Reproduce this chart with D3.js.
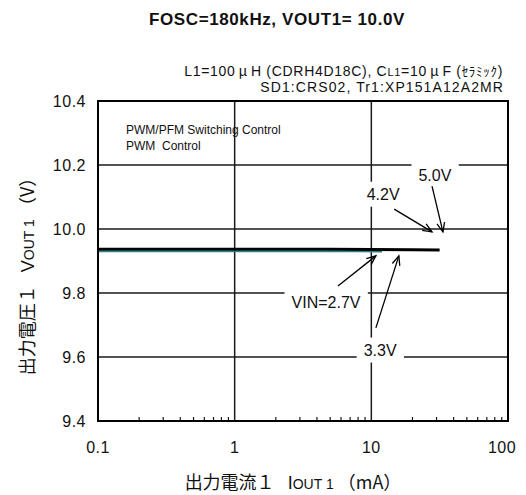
<!DOCTYPE html>
<html>
<head>
<meta charset="utf-8">
<script src="https://cdn.jsdelivr.net/npm/d3@7/dist/d3.min.js"></script>
<style>
  html, body { margin: 0; padding: 0; background: #fff; }
  svg text { font-family: "Liberation Sans", Arial, "Noto Sans CJK JP", sans-serif; fill: #111; }
</style>
</head>
<body>
<svg id="chart" width="526" height="495"></svg>
<script>
// Output current (mA) and output voltage (V) for each input voltage
const currentsA = [0.1, 0.2, 0.5, 1, 2, 5, 8, 12];
const vout27 = [9.930, 9.930, 9.930, 9.930, 9.930, 9.930, 9.930, 9.929];
const currentsB = [0.1, 0.2, 0.5, 1, 2, 5, 10, 20, 31.6];
const vout33 = [9.937, 9.937, 9.937, 9.937, 9.937, 9.937, 9.936, 9.935, 9.934];

const xTicks = [0.1, 1, 10, 100];
const xTickLabels = ["0.1", "1", "10", "100"];
const yTicks = [9.4, 9.6, 9.8, 10.0, 10.2, 10.4];
const yTickLabels = ["9.4", "9.6", "9.8", "10.0", "10.2", "10.4"];

// Callouts: label position and arrow (from -> to) in data units
const callouts = [
  { text: "5.0V",     lx: 29.2, ly: 10.169, x1: 27.8, y1: 10.134, x2: 33.4, y2: 9.991 },
  { text: "4.2V",     lx: 12.2, ly: 10.109, x1: 14.7, y1: 10.062, x2: 27.8, y2: 9.991 },
  { text: "VIN=2.7V", lx: 4.66, ly: 9.772,  x1: 5.70, y1: 9.822,  x2: 10.8, y2: 9.916 },
  { text: "3.3V",     lx: 11.6, ly: 9.622,  x1: 10.8, y1: 9.691,  x2: 15.9, y2: 9.916 }
];

const svg = d3.select("#chart");
const pLeft = 98, pRight = 508, pTop = 101, pBottom = 421;

const x = d3.scaleLog().domain([0.1, 100]).range([pLeft, pRight]);
const y = d3.scaleLinear().domain([9.4, 10.4]).range([pBottom, pTop]);

// Title and conditions
svg.append("text").attr("x", 277).attr("y", 25).attr("text-anchor", "middle")
  .style("font-size", "17px").style("font-weight", "bold").style("letter-spacing", "0.6px")
  .text("FOSC=180kHz, VOUT1= 10.0V");

const cond1 = svg.append("text").attr("x", 503).attr("y", 76).attr("text-anchor", "end")
  .style("font-size", "14px").style("letter-spacing", "0.7px");
cond1.append("tspan").text("L1=100");
cond1.append("tspan").attr("dx", 3).style("font-family", "Noto Sans CJK JP").text("μ");
cond1.append("tspan").attr("dx", 3).text("H (CDRH4D18C), C");
cond1.append("tspan").style("font-size", "11px").text("L1");
cond1.append("tspan").text("=10");
cond1.append("tspan").attr("dx", 3).style("font-family", "Noto Sans CJK JP").text("μ");
cond1.append("tspan").attr("dx", 3).text("F (");
cond1.append("tspan").style("font-family", "Noto Sans CJK JP").style("font-size", "13px").text("ｾﾗﾐｯｸ");
cond1.append("tspan").text(")");

svg.append("text").attr("x", 504).attr("y", 92).attr("text-anchor", "end")
  .style("font-size", "14px").style("letter-spacing", "1.1px").text("SD1:CRS02, Tr1:XP151A12A2MR");

// Grid lines
const g = svg.append("g");
g.selectAll(".vgrid").data(xTicks.slice(1, -1)).enter().append("line")
  .attr("x1", d => x(d)).attr("x2", d => x(d)).attr("y1", pTop).attr("y2", pBottom)
  .attr("stroke", "#1a1a1a").attr("stroke-width", 1.5);
g.selectAll(".hgrid").data(yTicks.slice(1, -1)).enter().append("line")
  .attr("x1", pLeft).attr("x2", pRight).attr("y1", d => y(d)).attr("y2", d => y(d))
  .attr("stroke", "#1a1a1a").attr("stroke-width", 1.5);

// Minor log ticks along the bottom, pointing inward
const minor = [];
[0.1, 1, 10].forEach(dec => { for (let k = 2; k <= 9; k++) minor.push(dec * k); });
g.selectAll(".minor").data(minor).enter().append("line")
  .attr("x1", d => x(d)).attr("x2", d => x(d)).attr("y1", pBottom).attr("y2", pBottom - 4)
  .attr("stroke", "#1a1a1a").attr("stroke-width", 1.2);

// Series lines
const line = d3.line().x(d => x(d[0])).y(d => y(d[1]));
svg.append("path").datum(currentsA.map((c, i) => [c, vout27[i]]))
  .attr("d", line).attr("fill", "none").attr("stroke", "#1a8a8a").attr("stroke-width", 1.5);
svg.append("path").datum(currentsB.map((c, i) => [c, vout33[i]]))
  .attr("d", line).attr("fill", "none").attr("stroke", "#000").attr("stroke-width", 3);

// Legend text inside the plot
svg.append("text").attr("x", 126).attr("y", 134).style("font-size", "12px")
  .text("PWM/PFM Switching Control");
svg.append("text").attr("x", 126).attr("y", 150).style("font-size", "12px")
  .attr("xml:space", "preserve").text("PWM  Control");

// Callout labels with white backing, then arrows
callouts.forEach(c => {
  const t = svg.append("text").attr("x", x(c.lx)).attr("y", y(c.ly)).attr("dy", "0.35em")
    .attr("text-anchor", "middle").style("font-size", "16px").text(c.text);
  const bb = t.node().getBBox();
  svg.insert("rect", () => t.node())
    .attr("x", bb.x - 7).attr("y", bb.y - 4).attr("width", bb.width + 14).attr("height", bb.height + 8)
    .attr("fill", "#fff");
});

callouts.forEach(c => {
  const ax1 = x(c.x1), ay1 = y(c.y1), ax2 = x(c.x2), ay2 = y(c.y2);
  svg.append("line").attr("x1", ax1).attr("y1", ay1).attr("x2", ax2).attr("y2", ay2)
    .attr("stroke", "#000").attr("stroke-width", 1.3);
  const ang = Math.atan2(ay2 - ay1, ax2 - ax1);
  const len = 10, spread = 0.4;
  const p = a => [ax2 - len * Math.cos(a), ay2 - len * Math.sin(a)];
  const pa = p(ang - spread), pb = p(ang + spread);
  svg.append("path").attr("d", `M${pa[0]},${pa[1]}L${ax2},${ay2}L${pb[0]},${pb[1]}`)
    .attr("fill", "none").attr("stroke", "#000").attr("stroke-width", 1.3);
});

// Plot frame
svg.append("rect").attr("x", pLeft).attr("y", pTop).attr("width", pRight - pLeft).attr("height", pBottom - pTop)
  .attr("fill", "none").attr("stroke", "#000").attr("stroke-width", 2);

// Tick labels
svg.selectAll(".xl").data(xTicks).enter().append("text")
  .attr("x", (d, i) => x(d) - (i === xTicks.length - 1 ? 6 : 0)).attr("y", 453)
  .attr("text-anchor", "middle").style("font-size", "16px").style("letter-spacing", "0.5px")
  .text((d, i) => xTickLabels[i]);
svg.selectAll(".yl").data(yTicks).enter().append("text")
  .attr("x", 86).attr("y", d => y(d)).attr("dy", "0.35em")
  .attr("text-anchor", "end").style("font-size", "16px").style("letter-spacing", "0.5px")
  .text((d, i) => yTickLabels[i]);

// Axis titles
const xt = svg.append("text").attr("x", 293).attr("y", 489).attr("text-anchor", "middle")
  .style("font-size", "18px").style("font-family", "Noto Sans CJK JP").attr("xml:space", "preserve");
xt.append("tspan").text("出力電流１  ");
xt.append("tspan").style("font-family", "Liberation Sans").text(" I");
xt.append("tspan").style("font-family", "Liberation Sans").style("font-size", "14px").text("OUT 1");
xt.append("tspan").text(" （mA）");

const yt = svg.append("text").attr("transform", "translate(34,272) rotate(-90)")
  .attr("text-anchor", "middle").style("font-size", "18px").style("font-family", "Noto Sans CJK JP")
  .attr("xml:space", "preserve");
yt.append("tspan").text("出力電圧１  ");
yt.append("tspan").style("font-family", "Liberation Sans").text(" V");
yt.append("tspan").style("font-family", "Liberation Sans").style("font-size", "14px").text("OUT 1");
yt.append("tspan").text(" （V）");
</script>
</body>
</html>
